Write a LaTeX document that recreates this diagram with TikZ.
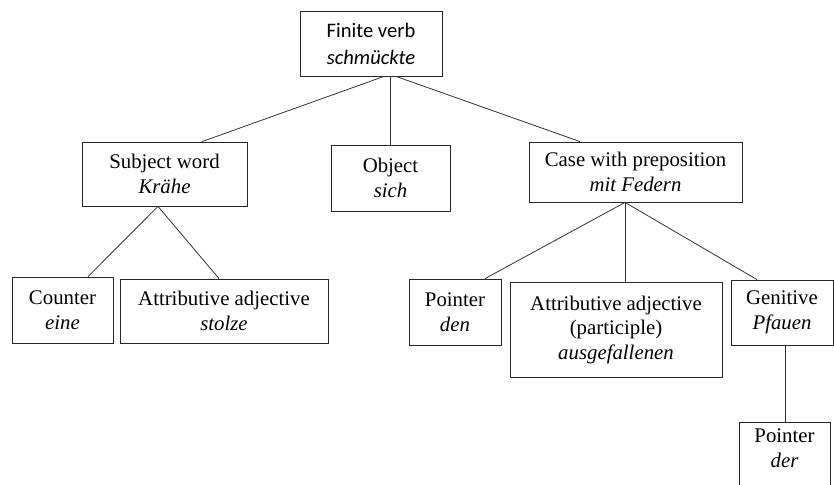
\documentclass[tikz,border=0pt]{standalone}
\usepackage{fontspec}
\setmainfont{Liberation Serif}
\newfontfamily\headfont{Carlito}
\begin{document}
\begin{tikzpicture}[x=1pt,y=-1pt,
  box/.style={draw=black!85, line width=0.8pt, inner sep=0pt, align=center,
    font=\fontsize{20.8}{24.5}\selectfont},
  link/.style={draw=black!80, line width=0.8pt}]
\clip (0,0) rectangle (834,484);
\fill[white] (0,0) rectangle (834,484);

% boxes
\node[box, minimum width=142pt, minimum height=65pt,
  font=\headfont\fontsize{20.6}{27}\selectfont] (fin) at (371,43.5)
  {Finite verb\\\textit{schmückte}};
\node[box, minimum width=165pt, minimum height=64pt] (subj) at (164.5,174)
  {Subject word\\\textit{Krähe}};
\node[box, minimum width=119pt, minimum height=66pt] (obj) at (390.5,178)
  {Object\\\textit{sich}};
\node[box, minimum width=213pt, minimum height=60pt] (case) at (635.5,172)
  {Case with preposition\\\textit{mit Federn}};
\node[box, minimum width=101pt, minimum height=66pt] (cnt) at (62.5,310)
  {Counter\\\textit{eine}};
\node[box, minimum width=208pt, minimum height=64pt] (adj) at (224,311)
  {Attributive adjective\\\textit{stolze}};
\node[box, minimum width=92pt, minimum height=66pt] (pden) at (455,312)
  {Pointer\\\textit{den}};
\node[box, minimum width=212pt, minimum height=95pt] (part) at (616,329.5)
  {Attributive adjective\\(participle)\\\textit{ausgefallenen}};
\node[box, minimum width=102pt, minimum height=65pt] (gen) at (782,312.5)
  {Genitive\\\textit{Pfauen}};
\node[box, minimum width=91pt, minimum height=68pt, text depth=16pt] (pder) at (784.5,456)
  {Pointer\\\textit{der}};

% connectors
\draw[link] ([xshift=13pt]fin.south) -- ([xshift=37.5pt]subj.north);
\draw[link] ([xshift=20pt]fin.south) -- (fin.south -| obj.north) -- (obj.north);
\draw[link] ([xshift=25pt]fin.south) -- ([xshift=-55.5pt]case.north);

\draw[link] ([xshift=-6.5pt]subj.south) -- ([xshift=25.5pt]cnt.north);
\draw[link] ([xshift=-6.5pt]subj.south) -- ([xshift=-5pt]adj.north);

\draw[link] ([xshift=-10.5pt]case.south) -- ([xshift=30pt]pden.north);
\draw[link] ([xshift=-10.5pt]case.south) -- ([xshift=-10.5pt]case.south |- part.north);
\draw[link] ([xshift=-10.5pt]case.south) -- ([xshift=-25pt]gen.north);

\draw[link] ([xshift=3pt]gen.south) -- ([xshift=3pt]gen.south |- pder.north);
\end{tikzpicture}
\end{document}
